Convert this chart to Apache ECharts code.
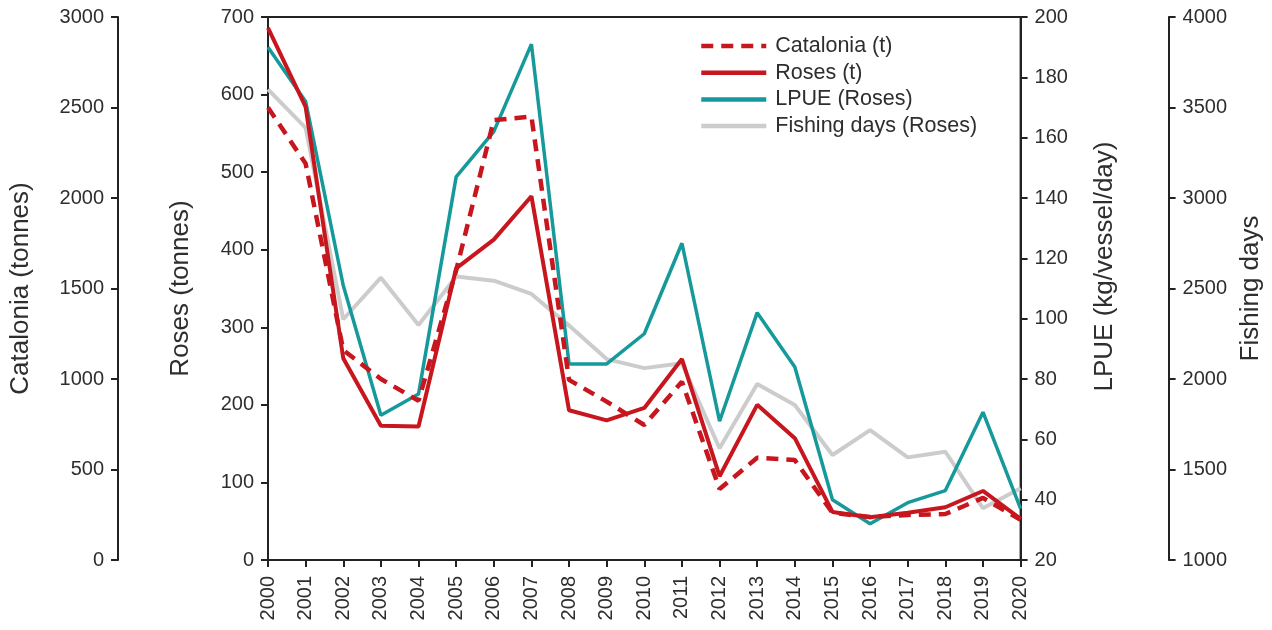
<!DOCTYPE html>
<html>
<head>
<meta charset="utf-8">
<script src="https://cdn.jsdelivr.net/npm/echarts@6/dist/echarts.min.js"></script>
<style>
  html, body { margin: 0; padding: 0; background: #fff; }
  #chart { width: 1272px; height: 630px; }
</style>
</head>
<body>
<div id="chart"></div>
<script>
// years on the x axis
const years = ['2000','2001','2002','2003','2004','2005','2006','2007','2008','2009','2010',
  '2011','2012','2013','2014','2015','2016','2017','2018','2019','2020'];
// landings, tonnes
const cataloniaT = [2500, 2190, 1160, 1000, 880, 1600, 2430, 2450, 995, 875, 746, 985, 392, 565, 552, 260, 238, 249, 254, 343, 222];
const rosesT = [686, 584, 260, 173, 172, 376, 413, 469, 193, 180, 196, 259, 108, 200, 157, 62, 55, 61, 68, 89, 53];
// kg/vessel/day
const lpueRoses = [190, 172, 111, 68, 75, 147, 162, 191, 85, 85, 95, 125, 66, 102, 84, 40, 32, 39, 43, 69, 37];
const fishingDays = [3600, 3387, 2330, 2560, 2298, 2566, 2543, 2470, 2295, 2110, 2060, 2087, 1617, 1972, 1856, 1580, 1718, 1567, 1598, 1286, 1396];

const RED = '#c8161e';
const TEAL = '#16999a';
const GREY = '#cccccc';
const INK = '#2e2e2e';
const AXIS = '#222222';
const FONT = '"Liberation Sans", Arial, sans-serif';

const chart = echarts.init(document.getElementById('chart'));

// common y axis look
function yAx(extra) {
  return Object.assign({
    type: 'value',
    nameLocation: 'middle',
    nameRotate: 90,
    nameTextStyle: { fontSize: 26, color: INK, fontFamily: FONT },
    splitLine: { show: false },
    axisLine: { show: true, lineStyle: { color: AXIS, width: 2 } },
    axisTick: { show: true, length: 7, lineStyle: { color: AXIS, width: 2 } },
    axisLabel: { fontSize: 20, color: INK, fontFamily: FONT, margin: 14, formatter: (v) => String(v) }
  }, extra);
}

const option = {
  animation: false,
  textStyle: { fontFamily: FONT },
  grid: {
    left: 268, right: 250, top: 17, bottom: 70,
    show: true, borderColor: AXIS, borderWidth: 2,
    containLabel: false
  },
  legend: {
    orient: 'vertical',
    left: 694,
    top: 30,
    itemWidth: 65,
    itemHeight: 14,
    itemGap: 4.7,
    itemStyle: { opacity: 0 },
    lineStyle: { width: 4.5 },
    textStyle: { fontSize: 21.5, lineHeight: 20, color: INK, fontFamily: FONT, padding: [0, 0, 0, 4] },
    data: ['Catalonia (t)', 'Roses (t)', 'LPUE (Roses)', 'Fishing days (Roses)']
  },
  xAxis: {
    type: 'category',
    data: years,
    boundaryGap: false,
    axisLine: { lineStyle: { color: AXIS, width: 2 } },
    axisTick: { length: 7, lineStyle: { color: AXIS, width: 2 } },
    axisLabel: { rotate: 90, fontSize: 20, color: INK, fontFamily: FONT, margin: 16, interval: 0 }
  },
  yAxis: [
    yAx({ name: 'Roses (tonnes)', position: 'left', offset: 0, min: 0, max: 700, interval: 100, nameGap: 74 }),
    yAx({ name: 'Catalonia (tonnes)', position: 'left', offset: 150, min: 0, max: 3000, interval: 500, nameGap: 84 }),
    yAx({ name: 'LPUE (kg/vessel/day)', position: 'right', offset: 0, min: 20, max: 200, interval: 20, nameGap: 71,
      nameTextStyle: { fontSize: 26, color: INK, fontFamily: FONT, padding: [0, 0, 0, 44] } }),
    yAx({ name: 'Fishing days', position: 'right', offset: 148, min: 1000, max: 4000, interval: 500, nameGap: 69 })
  ],
  series: [
    {
      name: 'Fishing days (Roses)', type: 'line', yAxisIndex: 3, data: fishingDays,
      symbol: 'none', lineStyle: { color: GREY, width: 4 }, itemStyle: { color: GREY }, z: 1
    },
    {
      name: 'LPUE (Roses)', type: 'line', yAxisIndex: 2, data: lpueRoses,
      symbol: 'none', lineStyle: { color: TEAL, width: 3.5 }, itemStyle: { color: TEAL }, z: 2
    },
    {
      name: 'Catalonia (t)', type: 'line', yAxisIndex: 1, data: cataloniaT,
      symbol: 'none', lineStyle: { color: RED, width: 4.5, type: [12, 8] }, itemStyle: { color: RED }, z: 3
    },
    {
      name: 'Roses (t)', type: 'line', yAxisIndex: 0, data: rosesT,
      symbol: 'none', lineStyle: { color: RED, width: 4 }, itemStyle: { color: RED }, z: 4
    }
  ]
};

chart.setOption(option);
window.addEventListener('resize', () => chart.resize());
</script>
</body>
</html>
